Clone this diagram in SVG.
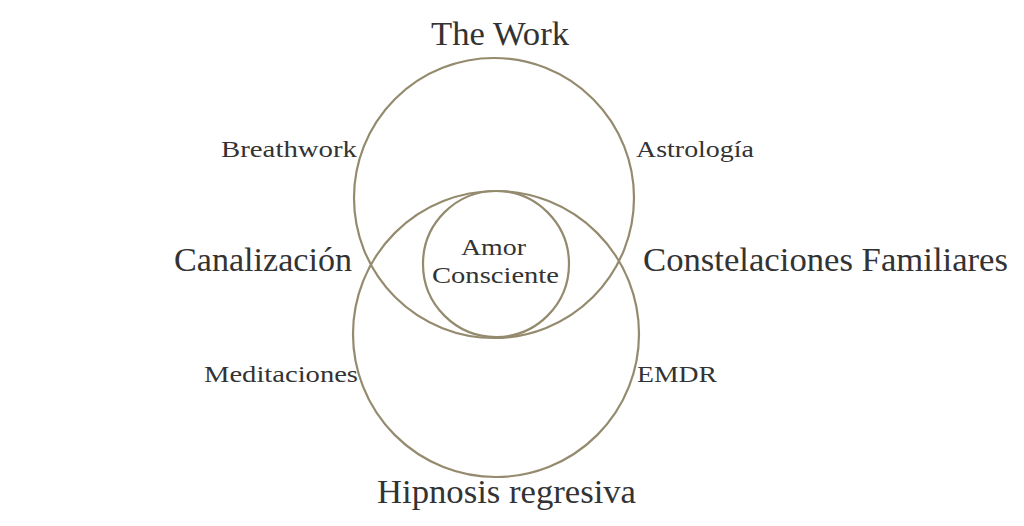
<svg xmlns="http://www.w3.org/2000/svg" width="1024" height="526" viewBox="0 0 1024 526">
<style>
.c{fill:none;stroke:#948a6e;stroke-width:2.2}
text{font-family:"Liberation Serif","DejaVu Serif",serif;fill:#333}
.l{font-size:33px}
.s{font-size:24px}
</style>
<rect width="1024" height="526" fill="#fff"/>
<g id="circles">
<circle id="top" class="c" cx="494" cy="198" r="140"/>
<circle id="bottom" class="c" cx="496" cy="334" r="143"/>
<circle id="center" class="c" cx="496" cy="264" r="73"/>
</g>
<g id="connectors"/>
<g id="labels">
<text class="l" x="431" y="45" textLength="138" lengthAdjust="spacingAndGlyphs">The Work</text>
<text class="l" x="377" y="503" textLength="259" lengthAdjust="spacingAndGlyphs">Hipnosis regresiva</text>
<text class="l" x="174" y="271" textLength="178" lengthAdjust="spacingAndGlyphs">Canalización</text>
<text class="l" x="643" y="271" textLength="365" lengthAdjust="spacingAndGlyphs">Constelaciones Familiares</text>
<text class="s" x="221" y="157" textLength="136" lengthAdjust="spacingAndGlyphs">Breathwork</text>
<text class="s" x="636" y="157" textLength="118" lengthAdjust="spacingAndGlyphs">Astrología</text>
<text class="s" x="204" y="382" textLength="154" lengthAdjust="spacingAndGlyphs">Meditaciones</text>
<text class="s" x="637" y="382" textLength="80" lengthAdjust="spacingAndGlyphs">EMDR</text>
<text class="s" x="461" y="255" textLength="65" lengthAdjust="spacingAndGlyphs">Amor</text>
<text class="s" x="432" y="283" textLength="127" lengthAdjust="spacingAndGlyphs">Consciente</text>
</g>
</svg>
